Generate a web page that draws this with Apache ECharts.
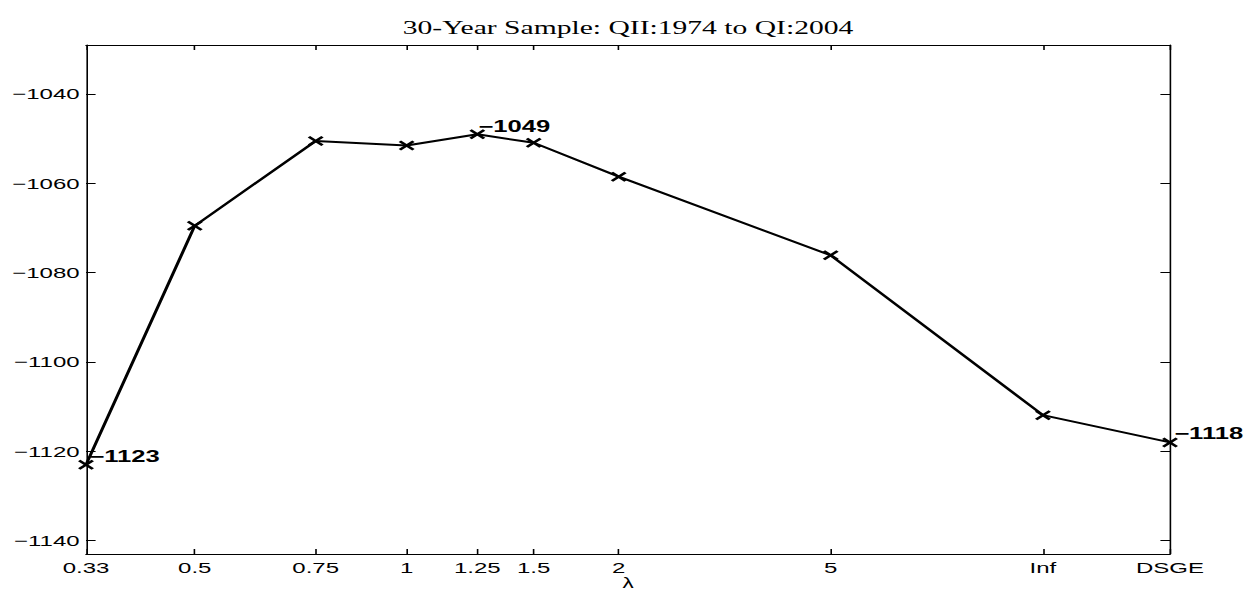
<!DOCTYPE html>
<html><head><meta charset="utf-8">
<script src="https://cdn.jsdelivr.net/npm/echarts@6/dist/echarts.min.js"></script>
<style>
html,body{margin:0;padding:0;background:#fff;overflow:hidden}
#wrap{width:1248px;height:590px;overflow:hidden}
#chart{width:780px;height:590px;transform:scaleX(1.6);transform-origin:0 0}
</style>
</head><body><div id="wrap"><div id="chart"></div></div>
<script>
// ---- data ----
const categories = ['0.33','0.5','0.75','1','1.25','1.5','2','5','Inf','DSGE'];
const xCoords = [0, 1.003, 2.119, 2.958, 3.610, 4.130, 4.914, 6.870, 8.828, 10];
const values = [-1123, -1069.5, -1050.5, -1051.5, -1049, -1050.9, -1058.5, -1076.1, -1111.9, -1118];
const yTicks = [-1140, -1120, -1100, -1080, -1060, -1040];
const labeledCategories = ['0.33', '1.25', 'DSGE'];
const titleText = '30-Year Sample: QII:1974 to QI:2004';
const xName = 'λ';

// ---- styles ----
const labelOffsets = {'0.33': [-3, -8], '1.25': [-4.4, -8], 'DSGE': [-2.4, -9]};
const minus = v => (v < 0 ? '\u2212' + Math.abs(v) : String(v));
const crossPath = 'path://M0,1.5 L1.5,0 L5,3.5 L8.5,0 L10,1.5 L6.5,5 L10,8.5 L8.5,10 L5,6.5 L1.5,10 L0,8.5 L3.5,5 Z';

const seriesData = categories.map((c, i) => {
  const item = {value: [xCoords[i], values[i]]};
  if (labeledCategories.includes(c)) {
    item.label = {
      show: true, position: 'right', distance: 0, offset: labelOffsets[c],
      formatter: () => minus(Math.round(values[i])),
      fontFamily: 'Liberation Sans, Arial, sans-serif', fontWeight: 'bold', fontSize: 16, color: '#000'
    };
  }
  return item;
});

const axisFont = {fontFamily: 'Liberation Sans, Arial, sans-serif', fontSize: 15, color: '#000'};
const xMin = 0, xMax = 10, yMin = -1143, yMax = -1029;

const chart = echarts.init(document.getElementById('chart'), null, {renderer: 'svg'});
chart.setOption({
  animation: false,
  backgroundColor: '#fff',
  title: {
    text: titleText, left: 387.5, top: 13, textAlign: 'center',
    textStyle: {fontFamily: 'Liberation Serif, Times New Roman, serif', fontWeight: 'normal', fontSize: 18.5, color: '#000', lineHeight: 20}
  },
  grid: {left: 53.75, right: 48.75, top: 45, bottom: 36, containLabel: false, outerBoundsMode: 'none'},
  xAxis: [{
    type: 'value', min: xMin, max: xMax, position: 'bottom',
    name: xName, nameLocation: 'middle', nameGap: 22, nameMoveOverlap: false,
    nameTextStyle: {fontFamily: 'Liberation Sans, Arial, sans-serif', fontSize: 14, color: '#000', lineHeight: 14},
    axisLine: {show: true, onZero: false, lineStyle: {color: '#000', width: 1}},
    axisTick: {show: true, inside: true, length: 5, customValues: xCoords, lineStyle: {color: '#000'}},
    axisLabel: Object.assign({show: true, margin: 6, customValues: xCoords,
      formatter: v => { const k = xCoords.findIndex(x => Math.abs(x - v) < 1e-6); return k >= 0 ? categories[k] : ''; }
    }, axisFont),
    splitLine: {show: false}
  }, {
    type: 'value', min: xMin, max: xMax, position: 'top',
    axisLine: {show: true, onZero: false, lineStyle: {color: '#000', width: 1}},
    axisTick: {show: true, inside: true, length: 5, customValues: xCoords, lineStyle: {color: '#000'}},
    axisLabel: {show: false},
    splitLine: {show: false}
  }],
  yAxis: [{
    type: 'value', min: yMin, max: yMax, position: 'left',
    axisLine: {show: true, onZero: false, lineStyle: {color: '#000', width: 1}},
    axisTick: {show: true, inside: true, length: 6, customValues: yTicks, lineStyle: {color: '#000'}},
    axisLabel: Object.assign({show: true, margin: 4, customValues: yTicks, formatter: v => minus(v)}, axisFont),
    splitLine: {show: false}
  }, {
    type: 'value', min: yMin, max: yMax, position: 'right',
    axisLine: {show: true, onZero: false, lineStyle: {color: '#000', width: 1}},
    axisTick: {show: true, inside: true, length: 6, customValues: yTicks, lineStyle: {color: '#000'}},
    axisLabel: {show: false},
    splitLine: {show: false}
  }],
  series: [{
    type: 'line', xAxisIndex: 0, yAxisIndex: 0,
    data: seriesData,
    symbol: crossPath, symbolSize: 10, showAllSymbol: true,
    lineStyle: {color: '#000', width: 2},
    itemStyle: {color: '#000'},
    emphasis: {disabled: true},
    z: 3
  }]
});
</script>
</body></html>
